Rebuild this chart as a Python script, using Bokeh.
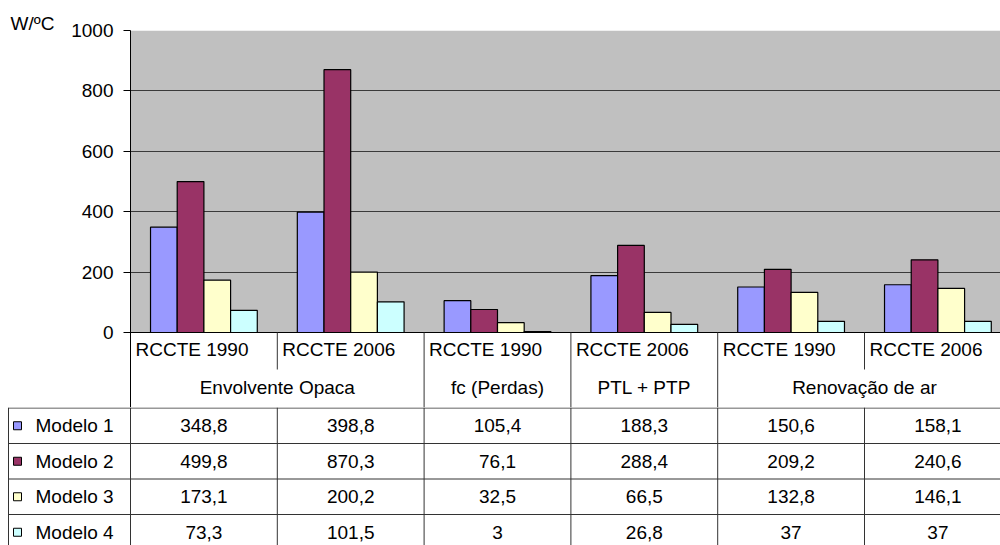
from bokeh.plotting import figure
from bokeh.layouts import column
from bokeh.models import FixedTicker, Range1d, Title
from bokeh.core.properties import value
from bokeh.embed import file_html
from bokeh.resources import INLINE

# ---------------- data ----------------
groups = ["Envolvente Opaca", "fc (Perdas)", "PTL + PTP", "Renovação de ar"]
group_spans = [2, 1, 1, 2]
categories = ["RCCTE 1990", "RCCTE 2006", "RCCTE 1990", "RCCTE 2006", "RCCTE 1990", "RCCTE 2006"]
series_names = ["Modelo 1", "Modelo 2", "Modelo 3", "Modelo 4"]
modelo1 = [348.8, 398.8, 105.4, 188.3, 150.6, 158.1]
modelo2 = [499.8, 870.3, 76.1, 288.4, 209.2, 240.6]
modelo3 = [173.1, 200.2, 32.5, 66.5, 132.8, 146.1]
modelo4 = [73.3, 101.5, 3, 26.8, 37, 37]
y_ticks = [0, 200, 400, 600, 800, 1000]
y_unit_label = "W/ºC"

series = [modelo1, modelo2, modelo3, modelo4]
colors = ["#9999FF", "#993366", "#FFFFCC", "#CCFFFF"]

FONT = "Liberation Sans"
FS = "19px"
LINE = "#333333"

# ---------------- geometry ----------------
W = 1000
H = 545
LEFT = 130           # frame left (px)
TOPB = 30            # frame top (px)
U = 146.8            # px per category
FRAME_W = W - LEFT
FRAME_H = 302
PX = (max(y_ticks) - min(y_ticks)) / FRAME_H   # data units per px
BELOW = 75           # px of category rows below the value axis
n = len(categories)
xmax = FRAME_W / U
ymin = -BELOW * PX
ymax = max(y_ticks)

# ---------------- chart figure ----------------
p = figure(width=W, height=TOPB + FRAME_H + BELOW,
           x_range=Range1d(0, xmax), y_range=Range1d(ymin, ymax),
           output_backend="svg", toolbar_location=None, title=None,
           x_axis_location=None, min_border=0,
           min_border_left=LEFT, min_border_top=TOPB, min_border_right=0, min_border_bottom=0)
p.frame_align = False
p.outline_line_color = None
p.background_fill_color = "white"
p.border_fill_color = "white"

ax = p.yaxis[0]
ax.ticker = FixedTicker(ticks=y_ticks)
ax.bounds = (ymin, ymax)
ax.major_tick_in = 0
ax.major_tick_out = 7
ax.minor_tick_in = 0
ax.minor_tick_out = 0
ax.major_label_standoff = 10
ax.axis_line_color = "black"
ax.major_tick_line_color = "black"
ax.major_label_text_font = FONT
ax.major_label_text_font_size = FS
ax.major_label_text_color = "black"

p.xgrid.visible = False
p.ygrid.ticker = FixedTicker(ticks=y_ticks[1:])
p.ygrid.grid_line_color = "#3a3a3a"
p.ygrid.grid_line_width = 1.2

# unit label as a title in the top border
p.add_layout(Title(text=y_unit_label, align="left", offset=-(LEFT - 10), standoff=-6,
                   text_font=FONT, text_font_size=FS, text_font_style="normal",
                   text_color="black"), "above")

# gray plot area
p.quad(left=0, right=xmax, bottom=min(y_ticks), top=max(y_ticks),
       fill_color="#C0C0C0", line_color=None, level="image")

# bars
bw = 1.0 / (len(series) + 1.5)
for j, (vals, col) in enumerate(zip(series, colors)):
    xs = [i + (0.75 + j + 0.5) * bw for i in range(n)]
    p.vbar(x=xs, top=vals, bottom=0, width=bw, fill_color=col,
           line_color="black", line_width=1.2)

# zero line
p.segment(x0=0, y0=0, x1=xmax, y1=0, line_color="black", line_width=1)

# separators in category rows
bounds_grp = []
acc = 0
for s in group_spans:
    acc += s
    bounds_grp.append(acc)
sx, sy0, sy1 = [], [], []
for i in range(1, n):
    sx.append(i)
    sy0.append(0)
    sy1.append(ymin if i in bounds_grp else -37 * PX)
p.segment(x0=sx, y0=sy0, x1=sx, y1=sy1, line_color=LINE, line_width=1)

# category labels
p.text(x=list(range(n)), y=[-16.5 * PX] * n, text=categories, x_offset=5,
       text_align="left", text_baseline="middle", text_font=value(FONT),
       text_font_size=value(FS), text_color="black")

# group labels
gx = []
acc = 0
for s in group_spans:
    gx.append(acc + s / 2)
    acc += s
p.text(x=gx, y=[-55 * PX] * len(groups), text=groups,
       text_align="center", text_baseline="middle", text_font=value(FONT),
       text_font_size=value(FS), text_color="black")

# ---------------- table figure ----------------
TH = H - (TOPB + FRAME_H + BELOW)
xleft = -LEFT / U
q = figure(width=W, height=TH, x_range=Range1d(xleft, xmax), y_range=Range1d(TH, 0),
           output_backend="svg", toolbar_location=None, title=None,
           x_axis_location=None, y_axis_location=None, min_border=0)
q.frame_align = False
q.outline_line_color = None
q.xgrid.visible = False
q.ygrid.visible = False
q.background_fill_color = "white"
q.border_fill_color = "white"

TOP = 0.5
ROW = 35.5
rows_y = [TOP + k * ROW for k in range(len(series_names)) if TOP + k * ROW < TH]
x_tab_left = (8 - LEFT) / U
q.segment(x0=[x_tab_left] * len(rows_y), y0=rows_y, x1=[xmax] * len(rows_y), y1=rows_y,
          line_color=LINE, line_width=1)
vx = [x_tab_left] + list(range(n))
q.segment(x0=vx, y0=[0] * len(vx), x1=vx, y1=[TH] * len(vx), line_color=LINE, line_width=1)

centers = [TOP + ROW * (k + 0.5) for k in range(len(series_names))]
q.rect(x=[(17 - LEFT) / U] * len(series_names), y=centers, width=8, height=8,
       width_units="screen", height_units="screen", fill_color=colors,
       line_color="black", line_width=1)
q.text(x=[(35 - LEFT) / U] * len(series_names), y=centers, text=series_names,
       text_align="left", text_baseline="middle", text_font=value(FONT),
       text_font_size=value(FS), text_color="black")

def fmt(v):
    return f"{v:g}".replace(".", ",")

tx, ty, tt = [], [], []
for k, vals in enumerate(series):
    for i, v in enumerate(vals):
        tx.append(i + 0.5)
        ty.append(centers[k])
        tt.append(fmt(v))
q.text(x=tx, y=ty, text=tt, text_align="center", text_baseline="middle",
       text_font=value(FONT), text_font_size=value(FS), text_color="black")

layout = column(p, q, spacing=0)
open("out.html", "w").write(file_html(layout, INLINE))
